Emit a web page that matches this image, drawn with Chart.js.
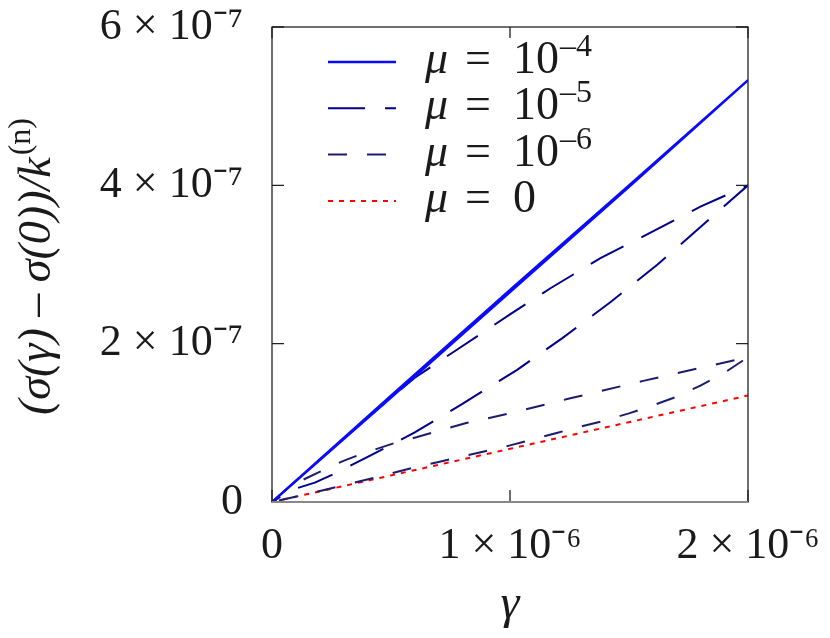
<!DOCTYPE html>
<html>
<head>
<meta charset="utf-8">
<script src="https://cdn.jsdelivr.net/npm/chart.js@4.4.1/dist/chart.umd.min.js"></script>
<style>
  html, body { margin: 0; padding: 0; background: #fff; }
  #wrap { width: 830px; height: 638px; position: relative; }
</style>
</head>
<body>
<div id="wrap"><canvas id="myChart" width="830" height="638"></canvas></div>
<script>
// strain gamma in units of 1e-6, stress in units of 1e-7 (loading out to 2e-6, then back)
const gammaMu4 = [0, 0.5, 1.0, 1.5, 2.0, 1.5, 1.0, 0.5, 0];
const sigmaMu4 = [0, 1.345, 2.68, 4.0, 5.33, 3.98, 2.65, 1.32, 0];

const gammaMu5 = [0, 0.15, 0.3, 0.45, 0.6, 0.78, 1.0, 1.17, 1.38, 1.55, 1.8, 2.0,
                  1.78, 1.62, 1.42, 1.22, 1.03, 0.8, 0.6, 0.4, 0.26, 0.18, 0.08, 0];
const sigmaMu5 = [0, 0.4, 0.8, 1.19, 1.57, 1.93, 2.37, 2.70, 3.08, 3.34, 3.73, 4.0,
                  3.42, 3.0, 2.52, 2.07, 1.67, 1.24, 0.88, 0.566, 0.354, 0.245, 0.15, 0];

const gammaMu6 = [0, 0.06, 0.13, 0.2, 0.3, 0.38, 0.45, 0.53, 0.61, 0.69, 0.82, 1.0, 1.24, 1.56, 2.0,
                  1.9, 1.8, 1.7, 1.6, 1.5, 1.4, 1.3, 1.2, 1.1, 1.0, 0.9, 0.8, 0.7, 0.6, 0.45, 0.3, 0.15, 0];
const sigmaMu6 = [0, 0.16, 0.28, 0.38, 0.52, 0.61, 0.68, 0.76, 0.82, 0.89, 1.0, 1.12, 1.30, 1.53, 1.83,
                  1.63, 1.47, 1.33, 1.22, 1.12, 1.03, 0.955, 0.875, 0.795, 0.715, 0.645, 0.575, 0.505, 0.44, 0.32, 0.21, 0.10, 0];

const gammaMu0 = [0, 1.0, 2.0];
const sigmaMu0 = [0, 0.672, 1.345];

const xTicks = [0, 1e-6, 2e-6];
const xTickLabels = ['0', '1 × 10⁻⁶', '2 × 10⁻⁶'];
const yTicks = [0, 2e-7, 4e-7, 6e-7];
const yTickLabels = ['0', '2 × 10⁻⁷', '4 × 10⁻⁷', '6 × 10⁻⁷'];

const legendBase = ['10', '10', '10', '0'];
const legendExp = ['–4', '–5', '–6', ''];

const yTitleMain = '(σ(γ) – σ(0))/k';
const yTitleSup = '(n)';

function toPoints(gs, ss) {
  return gs.map((g, i) => ({ x: g * 1e-6, y: ss[i] * 1e-7 }));
}

// inward ticks on all four sides, box frame, y title and the mu legend
const frameAndLegend = {
  id: 'frameAndLegend',
  afterDatasetsDraw(chart) {
    const c = chart.ctx;
    const a = chart.chartArea;
    const scales = chart.scales;
    c.save();
    c.strokeStyle = '#222';
    c.lineWidth = 1.3;
    c.beginPath();
    yTicks.forEach((v) => {
      const y = scales.y.getPixelForValue(v);
      c.moveTo(a.left, y); c.lineTo(a.left + 12, y);
      c.moveTo(a.right, y); c.lineTo(a.right - 12, y);
    });
    xTicks.forEach((v) => {
      const x = scales.x.getPixelForValue(v);
      c.moveTo(x, a.bottom); c.lineTo(x, a.bottom - 12);
      c.moveTo(x, a.top); c.lineTo(x, a.top + 11);
    });
    c.stroke();
    c.strokeRect(a.left, a.top, a.right - a.left, a.bottom - a.top);
    c.strokeStyle = '#888';
    c.lineWidth = 2;
    c.beginPath(); c.moveTo(a.left, a.bottom); c.lineTo(a.right, a.bottom); c.stroke();

    // rotated y title with a raised (n)
    c.save();
    c.translate(38, (a.top + a.bottom) / 2 + 2);
    c.rotate(-Math.PI / 2);
    c.fillStyle = '#1a1a1a';
    c.textAlign = 'left';
    c.textBaseline = 'middle';
    c.font = 'italic 46px "Liberation Serif"';
    const wMain = c.measureText(yTitleMain).width;
    c.font = '32px "Liberation Serif"';
    const wSup = c.measureText(yTitleSup).width;
    const x0 = -(wMain + wSup + 2) / 2;
    c.font = 'italic 46px "Liberation Serif"';
    c.fillText(yTitleMain, x0, 0);
    c.font = '32px "Liberation Serif"';
    c.fillText(yTitleSup, x0 + wMain + 2, -16);
    c.restore();

    const lx = a.left + 56, ly = a.top + 35;
    chart.data.datasets.forEach((ds, i) => {
      const y = ly + i * 46.3;
      c.strokeStyle = ds.borderColor;
      c.lineWidth = ds.borderWidth;
      c.setLineDash(ds.borderDash || []);
      c.beginPath(); c.moveTo(lx, y); c.lineTo(lx + 68, y); c.stroke();
      c.setLineDash([]);
      c.fillStyle = '#1a1a1a';
      c.textAlign = 'left';
      c.textBaseline = 'alphabetic';
      const base = y + 11;
      c.font = 'italic 46px "Liberation Serif"';
      c.fillText('μ', lx + 97, base);
      c.font = '46px "Liberation Serif"';
      c.fillText('=', lx + 137, base);
      c.fillText(legendBase[i], lx + 185, base);
      const w = c.measureText(legendBase[i]).width;
      c.font = '32px "Liberation Serif"';
      c.fillText(legendExp[i], lx + 186 + w, base - 17);
    });
    c.restore();
  }
};

new Chart(document.getElementById('myChart'), {
  type: 'line',
  data: {
    datasets: [{
      label: 'μ = 10⁻⁴',
      data: toPoints(gammaMu4, sigmaMu4),
      borderColor: '#0a0aff',
      borderWidth: 2.4,
    }, {
      label: 'μ = 10⁻⁵',
      data: toPoints(gammaMu5, sigmaMu5),
      borderColor: '#00008b',
      borderWidth: 2,
      borderDash: [37, 20],
    }, {
      label: 'μ = 10⁻⁶',
      data: toPoints(gammaMu6, sigmaMu6),
      borderColor: '#1c1c6e',
      borderWidth: 2,
      borderDash: [19, 20],
    }, {
      label: 'μ = 0',
      data: toPoints(gammaMu0, sigmaMu0),
      borderColor: '#ff0000',
      borderWidth: 2,
      borderDash: [5, 6],
    }],
  },
  options: {
    responsive: false,
    animation: false,
    elements: { point: { radius: 0 }, line: { tension: 0 } },
    layout: { padding: { top: 27, right: 82, left: 0, bottom: 0 } },
    plugins: { legend: { display: false }, tooltip: { enabled: false } },
    scales: {
      x: {
        type: 'linear',
        min: 0,
        max: 2e-6,
        grid: { display: false, drawTicks: false },
        border: { display: false },
        afterBuildTicks: (scale) => { scale.ticks = xTicks.map((v) => ({ value: v })); },
        afterFit: (scale) => { scale.height = 136; scale.paddingLeft = 0; scale.paddingRight = 0; },
        ticks: {
          padding: 18,
          maxRotation: 0,
          autoSkip: false,
          color: '#1a1a1a',
          font: { family: '"Liberation Serif"', size: 44 },
          callback: (v) => xTickLabels[xTicks.indexOf(v)],
        },
        title: {
          display: true,
          text: 'γ',
          color: '#1a1a1a',
          font: { family: '"Liberation Serif"', size: 48, style: 'italic' },
          padding: { top: 0, bottom: 4 },
        },
      },
      y: {
        min: 0,
        max: 6e-7,
        grid: { display: false, drawTicks: false },
        border: { display: false },
        afterBuildTicks: (scale) => { scale.ticks = yTicks.map((v) => ({ value: v })); },
        afterFit: (scale) => { scale.width = 272; scale.paddingTop = 0; scale.paddingBottom = 0; },
        ticks: {
          padding: 29,
          color: '#1a1a1a',
          font: { family: '"Liberation Serif"', size: 44 },
          callback: (v) => yTickLabels[yTicks.indexOf(v)],
        },
      },
    },
  },
  plugins: [frameAndLegend],
});
</script>
</body>
</html>
